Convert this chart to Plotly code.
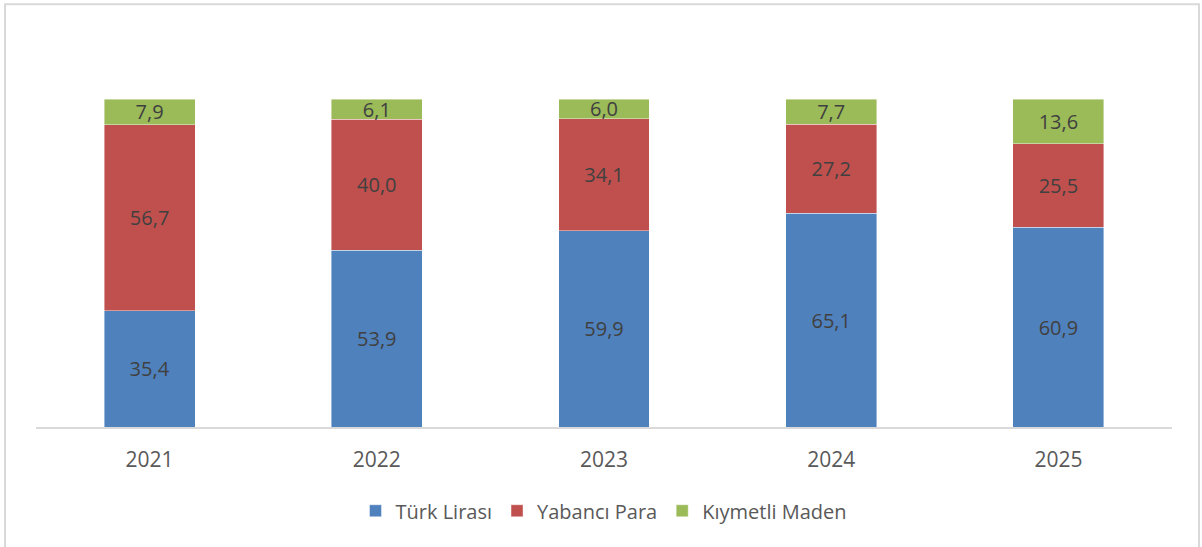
import plotly.graph_objects as go

years = ["2021", "2022", "2023", "2024", "2025"]
turk_lirasi = [35.4, 53.9, 59.9, 65.1, 60.9]
yabanci_para = [56.7, 40.0, 34.1, 27.2, 25.5]
kiymetli_maden = [7.9, 6.1, 6.0, 7.7, 13.6]

series = [
    ("Türk Lirası", turk_lirasi, "#4F81BD"),
    ("Yabancı Para", yabanci_para, "#C0504D"),
    ("Kıymetli Maden", kiymetli_maden, "#9BBB59"),
]

FONT = "Open Sans"
fig = go.Figure()
for name, vals, col in series:
    fig.add_trace(go.Bar(
        x=years, y=vals, name=name,
        marker=dict(color=col, line=dict(color="rgba(255,255,255,0.6)", width=0.7)),
        text=[f"{v:.1f}".replace(".", ",") for v in vals],
        textposition="inside", insidetextanchor="middle",
        textfont=dict(family=FONT, size=20, color="#404040"),
        constraintext="none",
    ))

PW = 1136
PH = 329
fig.update_layout(
    barmode="stack", bargap=0.6,
    width=1202, height=547,
    margin=dict(l=36, r=30, t=99, b=120),
    paper_bgcolor="white", plot_bgcolor="white",
    font=dict(family=FONT, color="#595959"),
    uniformtext=dict(minsize=8, mode="show"),
    xaxis=dict(showline=True, linecolor="#D9D9D9", linewidth=1.5,
               ticks="outside", ticklen=13, tickcolor="rgba(0,0,0,0)",
               tickfont=dict(family=FONT, size=21, color="#595959"), showgrid=False),
    yaxis=dict(range=[0, 100], visible=False, showgrid=False),
    legend=dict(orientation="h", x=0.5, xanchor="center", y=-84 / PH, yanchor="middle",
                font=dict(family=FONT, size=20, color="#595959"), traceorder="normal",
                itemwidth=30),
    shapes=[dict(type="rect", xref="paper", yref="paper",
                 x0=(5 - 36) / PW, x1=(1199 - 36) / PW, y0=-(560 - 428) / PH, y1=1 + (99 - 4) / PH,
                 line=dict(color="#D9D9D9", width=2))],
)

fig.write_html("out.html", config={"displayModeBar": False},
               post_script="document.body.style.margin='0';document.body.style.overflow='hidden';")
